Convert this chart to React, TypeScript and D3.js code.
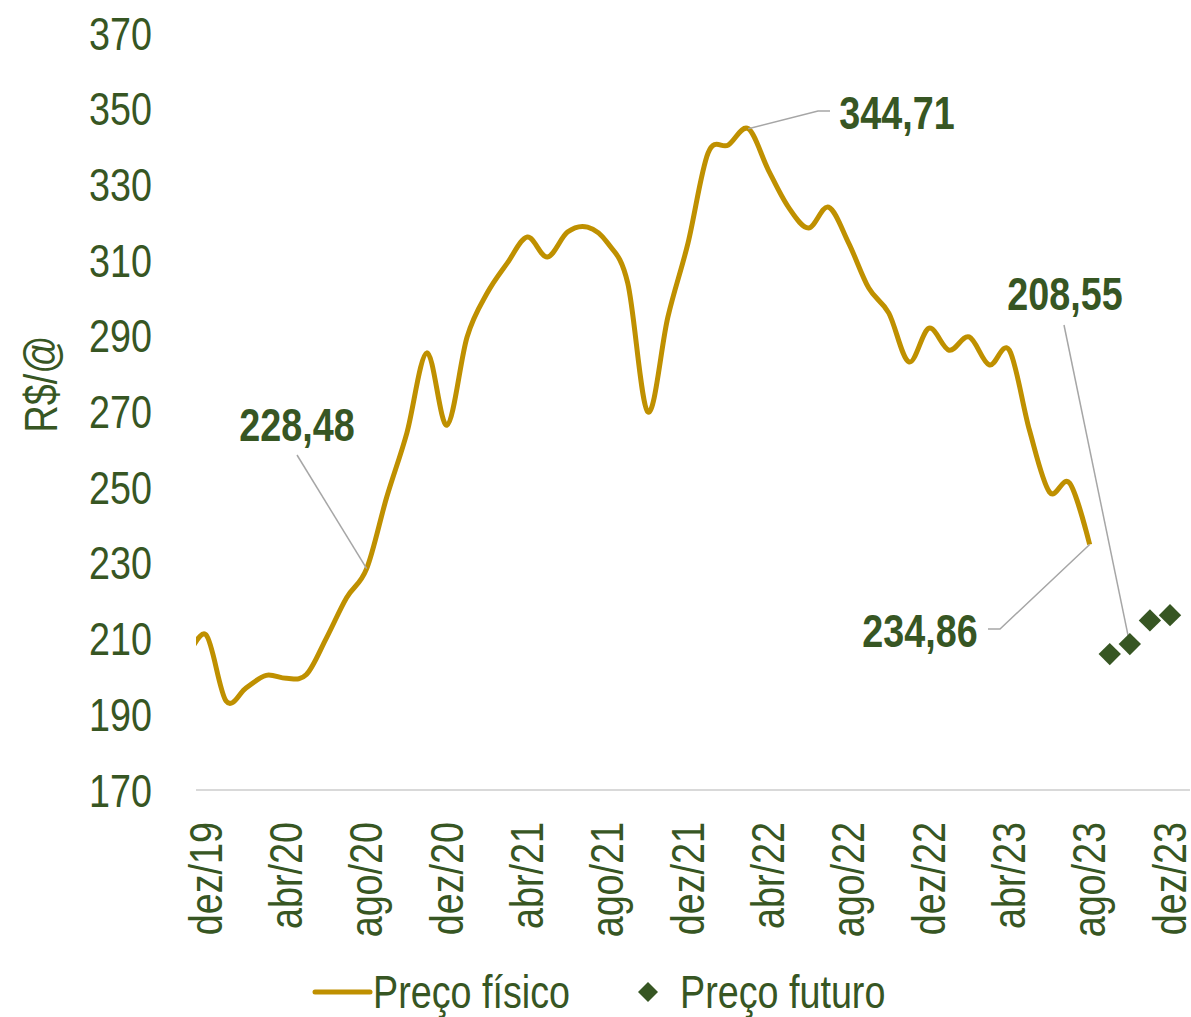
import React from "react";
import * as d3 from "d3";

// Monthly categories (nov/19 is the off-axis start point, clipped by the plot area)
const physMonths = [
  "nov/19","dez/19","jan/20","fev/20","mar/20","abr/20","mai/20","jun/20","jul/20","ago/20",
  "set/20","out/20","nov/20","dez/20","jan/21","fev/21","mar/21","abr/21","mai/21","jun/21",
  "jul/21","ago/21","set/21","out/21","nov/21","dez/21","jan/22","fev/22","mar/22","abr/22",
  "mai/22","jun/22","jul/22","ago/22","set/22","out/22","nov/22","dez/22","jan/23","fev/23",
  "mar/23","abr/23","mai/23","jun/23","jul/23","ago/23",
];
const physValues = [
  204, 211, 193.5, 197, 200.3, 199.5, 200.5, 210.2, 220.8, 228.48,
  247.4, 264.3, 285.5, 266.4, 289.7, 301.3, 309.2, 316.1, 310.8, 317.4,
  318.7, 314.5, 303.9, 269.9, 295, 314.5, 338.3, 340.4, 344.71, 333.8,
  324, 318.5, 324, 314.5, 302.6, 296, 283.1, 292, 286.2, 289.7,
  282.3, 286.2, 265.1, 248.7, 251.1, 234.86,
];
const futMonths = ["set/23", "out/23", "nov/23", "dez/23"];
const futValues = [205.9, 208.55, 214.8, 216.2];

const axisMonths = [
  "dez/19","jan/20","fev/20","mar/20","abr/20","mai/20","jun/20","jul/20","ago/20","set/20","out/20","nov/20",
  "dez/20","jan/21","fev/21","mar/21","abr/21","mai/21","jun/21","jul/21","ago/21","set/21","out/21","nov/21",
  "dez/21","jan/22","fev/22","mar/22","abr/22","mai/22","jun/22","jul/22","ago/22","set/22","out/22","nov/22",
  "dez/22","jan/23","fev/23","mar/23","abr/23","mai/23","jun/23","jul/23","ago/23","set/23","out/23","nov/23",
  "dez/23",
];
const xTickLabels = ["dez/19","abr/20","ago/20","dez/20","abr/21","ago/21","dez/21","abr/22","ago/22","dez/22","abr/23","ago/23","dez/23"];
const yTicks = [170, 190, 210, 230, 250, 270, 290, 310, 330, 350, 370];

const GOLD = "#BF9000";
const GREEN = "#375623";
const GRAY = "#A6A6A6";
const FONT = "'Liberation Sans', Arial, sans-serif";
const NARROW = 0.82;

function T(props: { x: number; y: number; rot?: number; anchor?: string; size?: number; bold?: boolean; children: React.ReactNode }) {
  const { x, y, rot = 0, anchor = "start", size = 46, bold = false, children } = props;
  return (
    <text
      transform={`translate(${x},${y}) rotate(${rot}) scale(${NARROW},1)`}
      textAnchor={anchor}
      dy="0.36em"
      fontSize={size}
      fontWeight={bold ? "bold" : "normal"}
      fill={GREEN}
    >
      {children}
    </text>
  );
}

export default function App() {
  const W = 1191, H = 1017;
  const plotLeft = 196, plotRight = 1190;
  const idx = (m: string) => axisMonths.indexOf(m) === -1 ? -1 : axisMonths.indexOf(m);
  const x = d3.scaleLinear().domain([0, 48]).range([206, 1170]);
  const y = d3.scaleLinear().domain([170, 370]).range([790, 33]);

  const physPts: [number, number][] = physValues.map((v, i) => [x(idx(physMonths[i])), y(v)]);
  const line = d3.line().curve(d3.curveCardinal.tension(0))(physPts) || "";
  const diamond = (size: number) => d3.symbol(d3.symbolSquare, size)() || "";

  const futPts = futValues.map((v, i) => [x(idx(futMonths[i])), y(v)]);
  const p228 = [x(idx("ago/20")), y(228.48)];
  const p344 = [x(idx("mar/22")), y(344.71)];
  const p234 = [x(idx("ago/23")), y(234.86)];
  const p208 = futPts[1];

  return (
    <svg width={W} height={H} style={{ position: "absolute", left: 0, top: 0, background: "#fff" }} fontFamily={FONT}>
      <defs>
        <clipPath id="plot">
          <rect x={plotLeft} y={0} width={plotRight - plotLeft} height={800} />
        </clipPath>
      </defs>
      {/* y ticks */}
      {yTicks.map((t) => (
        <T key={t} x={152} y={y(t)} anchor="end">{t}</T>
      ))}
      <T x={40} y={384} rot={-90} anchor="middle">R$/@</T>
      {/* axis line */}
      <line x1={plotLeft} x2={plotRight} y1={y(170)} y2={y(170)} stroke="#D9D9D9" strokeWidth={2} />
      {/* x labels */}
      {xTickLabels.map((m) => (
        <T key={m} x={x(idx(m)) - 1} y={822} rot={-90} anchor="end">{m}</T>
      ))}
      {/* physical line */}
      <path d={line} fill="none" stroke={GOLD} strokeWidth={5} clipPath="url(#plot)" strokeLinejoin="round" />
      {/* leader lines */}
      <g stroke={GRAY} strokeWidth={1.5} fill="none">
        <path d={`M297,455 L${p228[0]},${p228[1]}`} />
        <path d={`M${p344[0]},${p344[1]} L818,111 L830,111`} />
        <path d={`M1064,325 L${p208[0]},${p208[1]}`} />
        <path d={`M988,629 L1000,629 L${p234[0]},${p234[1]}`} />
      </g>
      {/* futures */}
      {futPts.map((p, i) => (
        <path key={i} d={diamond(250)} transform={`translate(${p[0]},${p[1]}) rotate(45)`} fill={GREEN} />
      ))}
      {/* annotations */}
      <T x={297} y={424} anchor="middle" bold>228,48</T>
      <T x={897} y={112} anchor="middle" bold>344,71</T>
      <T x={1065} y={293} anchor="middle" bold>208,55</T>
      <T x={920} y={630} anchor="middle" bold>234,86</T>
      {/* legend */}
      <line x1={315} x2={370} y1={992} y2={992} stroke={GOLD} strokeWidth={5} strokeLinecap="round" />
      <T x={373} y={991} size={46}>Preço físico</T>
      <path d={diamond(200)} transform="translate(648,992) rotate(45)" fill={GREEN} />
      <T x={680} y={991} size={46}>Preço futuro</T>
    </svg>
  );
}
